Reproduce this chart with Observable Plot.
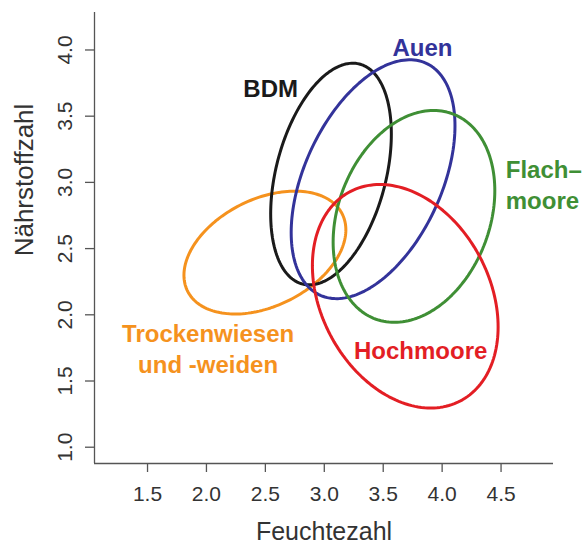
<!DOCTYPE html>
<html>
<head>
<meta charset="utf-8">
<script src="https://cdn.jsdelivr.net/npm/d3@7"></script>
<script src="https://cdn.jsdelivr.net/npm/@observablehq/plot@0.6"></script>
<style>
  html, body { margin: 0; padding: 0; background: #ffffff; }
  #chart svg { display: block; }
</style>
</head>
<body>
<div id="chart"></div>
<script>
// Ellipse parameters (data units)
const groups = ["Trockenwiesen", "BDM", "Auen", "Flachmoore", "Hochmoore"];
const centerX = [2.496, 3.057, 3.414, 3.761, 3.687];
const centerY = [2.470, 3.063, 3.024, 2.743, 2.140];
const spreadX = [0.687, 0.512, 0.695, 0.686, 0.788];
const spreadY = [0.464, 0.837, 0.902, 0.800, 0.844];
const correlation = [0.369, 0.36, 0.447, 0.243, -0.274];
const colors = ["#f5921e", "#1a1a1a", "#33339a", "#3f8f35", "#e31e24"];

// Labels
const labelText = ["Trockenwiesen\nund -weiden", "BDM", "Auen", "Flach–\nmoore", "Hochmoore"];
const labelX = [2.014, 2.545, 3.833, 4.540, 3.818];
const labelY = [1.753, 3.719, 4.027, 2.992, 1.740];
const labelAlign = ["middle", "middle", "middle", "start", "middle"];

// Axes
const xTicks = [1.5, 2.0, 2.5, 3.0, 3.5, 4.0, 4.5];
const yTicks = [1.0, 1.5, 2.0, 2.5, 3.0, 3.5, 4.0];
const xDomain = [1.05, 4.945];
const yDomain = [0.877, 4.283];
const xTitle = "Feuchtezahl";
const yTitle = "Nährstoffzahl";

// Build ellipse outlines from the parameters
const steps = 180;
const outline = groups.flatMap((g, i) => d3.range(steps + 1).map(k => {
  const t = 2 * Math.PI * k / steps;
  const r = correlation[i];
  return {
    group: g,
    color: colors[i],
    x: centerX[i] + spreadX[i] * Math.cos(t),
    y: centerY[i] + spreadY[i] * (r * Math.cos(t) + Math.sqrt(1 - r * r) * Math.sin(t))
  };
}));

const labels = groups.map((g, i) => ({
  text: labelText[i], x: labelX[i], y: labelY[i], color: colors[i], align: labelAlign[i]
}));

const axisColor = "#555555";
const textColor = "#333333";

const chart = Plot.plot({
  width: 583,
  height: 543,
  marginLeft: 94,
  marginRight: 30,
  marginTop: 12,
  marginBottom: 80,
  style: { fontFamily: "'Liberation Sans', Arial, Helvetica, sans-serif", background: "#ffffff", overflow: "visible" },
  x: { domain: xDomain },
  y: { domain: yDomain },
  color: { type: "identity" },
  marks: [
    Plot.ruleX([xDomain[0]], { y1: yDomain[0], y2: yDomain[1], stroke: axisColor, strokeWidth: 1.3 }),
    Plot.ruleY([yDomain[0]], { x1: xDomain[0], x2: xDomain[1], stroke: axisColor, strokeWidth: 1.3 }),
    Plot.axisX({ ticks: xTicks, tickSize: 9, tickPadding: 14, fontSize: 21, tickFormat: d => d.toFixed(1),
      label: null, stroke: axisColor, strokeWidth: 1.3, fill: textColor }),
    Plot.axisY({ ticks: yTicks, tickSize: 9, tickFormat: () => "", label: null, stroke: axisColor, strokeWidth: 1.3 }),
    Plot.text(yTicks, { y: d => d, frameAnchor: "left", text: d => d.toFixed(1), rotate: -90, dx: -29,
      textAnchor: "middle", fontSize: 21, fill: textColor }),
    Plot.text([xTitle], { frameAnchor: "bottom", text: d => d, dy: 76, lineAnchor: "bottom", fontSize: 25, fill: textColor }),
    Plot.text([yTitle], { frameAnchor: "left", text: d => d, rotate: -90, dx: -70, dy: -58,
      textAnchor: "middle", fontSize: 26, fill: textColor }),
    Plot.line(outline, { x: "x", y: "y", z: "group", stroke: "color", strokeWidth: 3 }),
    Plot.text(labels.filter(d => d.align === "middle"), { x: "x", y: "y", text: "text", fill: "color",
      textAnchor: "middle", fontSize: 24, fontWeight: "bold", lineHeight: 1.3 }),
    Plot.text(labels.filter(d => d.align === "start"), { x: "x", y: "y", text: "text", fill: "color",
      textAnchor: "start", fontSize: 24, fontWeight: "bold", lineHeight: 1.3 })
  ]
});

document.getElementById("chart").appendChild(chart);
</script>
</body>
</html>
